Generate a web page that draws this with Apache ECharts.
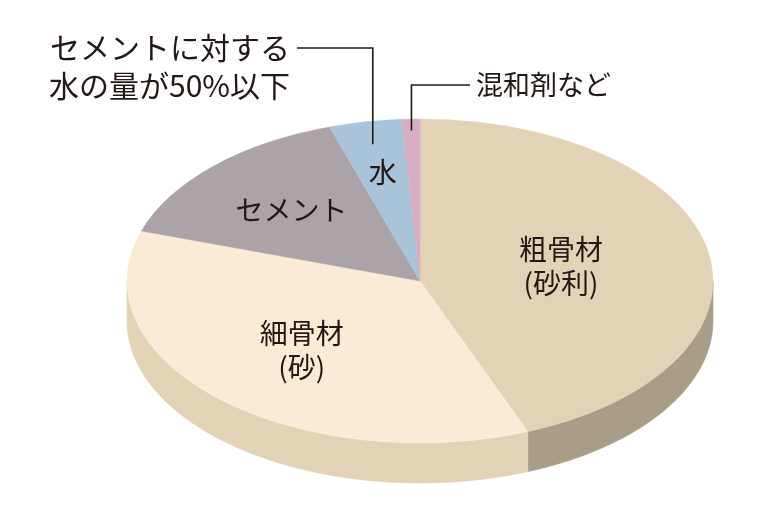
<!DOCTYPE html>
<html>
<head>
    <meta charset="utf-8">
    <title>コンクリートの材料</title>
    <script src="https://cdn.jsdelivr.net/npm/echarts@6/dist/echarts.min.js"></script>
    <style>
        html, body { margin: 0; padding: 0; background: #fff; }
        #chart { width: 780px; height: 520px; }
    </style>
</head>
<body>
<div id="chart"></div>
<script>
    // 材料の割合（%）
    var names = ['粗骨材', '細骨材', 'セメント', '水', '混和剤'];
    var labels = ['粗骨材\n(砂利)', '細骨材\n(砂)', 'セメント', '水', ''];
    var values = [44, 36, 15, 4, 1];
    var notes = ['', '', '', 'セメントに対する\n水の量が50%以下', '混和剤など'];

    var topColors = ['#e3d3b6', '#f9ebd6', '#aca3a8', '#a9c4da', '#d8aec2'];
    var sideColors = ['#aa9d88', '#e2d3b7', '#8e858a', '#8aa5bb', '#b98fa3'];

    // 楕円（斜めから見た円盤）の配置
    var CX = 420, CY = 281, RX = 293, RY = 162, DEPTH = 40;
    var FONT = '"Noto Sans CJK JP", "Noto Sans", sans-serif';
    var TEXT = '#231815';
    var labelR = [0.49, 0.59, 0.62, 0.68, 0];
    var noteLayout = {
        3: { y: 48, lineX: 297, textX: 290, align: 'right', r: 0.86, size: 30, lh: 38 },
        4: { y: 85, lineX: 470, textX: 476, align: 'left', r: 0.93, size: 27, lh: 38 }
    };

    var total = values.reduce(function (s, v) { return s + v; }, 0);
    var starts = [];
    var acc = 0;
    values.forEach(function (v) { starts.push(acc / total * 2 * Math.PI); acc += v; });

    // t は真上から時計回りの角度
    function pt(t, r, dy) {
        return [CX + RX * r * Math.sin(t), CY - RY * r * Math.cos(t) + (dy || 0)];
    }

    function renderItem(params, api) {
        var i = params.dataIndex;
        var a = starts[i];
        var b = a + api.value(0) / total * 2 * Math.PI;
        var mid = (a + b) / 2;
        var children = [];

        // 側面（手前の半分だけ見える）
        var s = Math.max(a, Math.PI / 2), e = Math.min(b, 1.5 * Math.PI);
        if (e > s) {
            var n = Math.max(2, Math.ceil((e - s) / (Math.PI / 360)));
            var poly = [];
            for (var k = 0; k <= n; k++) poly.push(pt(s + (e - s) * k / n, 1, 0));
            for (var k2 = n; k2 >= 0; k2--) poly.push(pt(s + (e - s) * k2 / n, 1, DEPTH));
            children.push({
                type: 'polygon',
                shape: { points: poly },
                style: { fill: sideColors[i], stroke: sideColors[i], lineWidth: 0.6 }
            });
        }

        // 上面
        children.push({
            type: 'sector',
            x: CX, y: CY, scaleY: RY / RX,
            shape: { cx: 0, cy: 0, r0: 0, r: RX, startAngle: a - Math.PI / 2, endAngle: b - Math.PI / 2, clockwise: true },
            style: { fill: topColors[i], stroke: topColors[i], lineWidth: 0.6 }
        });

        // 扇形の中のラベル
        if (labels[i]) {
            var lp = pt(mid, labelR[i]);
            children.push({
                type: 'text', x: lp[0], y: lp[1], z2: 20,
                style: {
                    text: labels[i], fill: TEXT, fontSize: 28, fontFamily: FONT,
                    lineHeight: 34, align: 'center', verticalAlign: 'middle'
                }
            });
        }

        // 引き出し線と注記
        if (notes[i]) {
            var nl = noteLayout[i];
            var p = pt(mid, nl.r);
            children.push({
                type: 'polyline', z2: 20,
                shape: { points: [[nl.lineX, nl.y], [p[0], nl.y], p] },
                style: { stroke: TEXT, lineWidth: 1.6, fill: null }
            });
            var lines = notes[i].split('\n').length;
            children.push({
                type: 'text', x: nl.textX, y: nl.y + (lines - 1) * nl.lh / 2, z2: 20,
                style: {
                    text: notes[i], fill: TEXT, fontSize: nl.size, fontFamily: FONT,
                    lineHeight: nl.lh, align: nl.align, verticalAlign: 'middle'
                }
            });
        }

        return { type: 'group', children: children };
    }

    var myChart = echarts.init(document.getElementById('chart'));
    myChart.setOption({
        backgroundColor: '#ffffff',
        animation: false,
        series: [{
            type: 'custom',
            coordinateSystem: 'none',
            silent: true,
            renderItem: renderItem,
            data: values.map(function (v, idx) { return { name: names[idx], value: v }; })
        }]
    });
</script>
</body>
</html>
